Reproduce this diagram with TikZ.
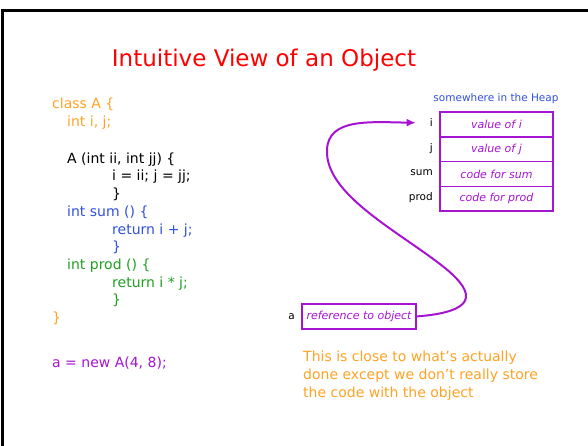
\documentclass[tikz,border=0pt]{standalone}
\usepackage{fontspec}
\setmainfont{DejaVu Sans}
\usetikzlibrary{positioning,arrows.meta}
\definecolor{codeorange}{RGB}{255,162,36}
\definecolor{codeblue}{RGB}{48,80,224}
\definecolor{codegreen}{RGB}{30,160,30}
\definecolor{heapviolet}{RGB}{165,20,210}
\definecolor{titlered}{RGB}{255,0,0}
\begin{document}
\begin{tikzpicture}[x=1pt,y=-1pt,every node/.style={inner sep=0pt},
  code/.style={anchor=base west,font=\fontsize{14}{17}\selectfont},
  slotname/.style={anchor=base east,font=\fontsize{10.5}{12}\selectfont},
  cell/.style={draw=heapviolet,line width=1.6pt,outer sep=0pt,minimum width=113pt,
    minimum height=24.8pt,text=heapviolet,font=\fontsize{11}{13}\selectfont\itshape},
  pointer/.style={draw=heapviolet,line width=2pt,-{Latex[length=9pt,width=8pt]}}]
  \useasboundingbox (0,0) rectangle (588,446);
  \draw[line width=3pt] (2.5,446) -- (2.5,10.5) -- (588,10.5);
  \node[anchor=base,text=titlered,font=\fontsize{23}{27}\selectfont] (title) at (264,66.5) {Intuitive View of an Object};

  % the class source
  \node[code,text=codeorange] (cls) at (52,109) {class A \{};
  \node[code,text=codeorange] (fields) at (67,127) {int i, j;};
  \node[code] (ctor) at (67,164) {A (int ii, int jj) \{};
  \node[code] (ctorbody) at (112,181) {i = ii; j = jj;};
  \node[code] (ctorend) at (112,198.5) {\}};
  \node[code,text=codeblue] (sum) at (67,216) {int sum () \{};
  \node[code,text=codeblue] (sumbody) at (112,234) {return i + j;};
  \node[code,text=codeblue] (sumend) at (112,251.5) {\}};
  \node[code,text=codegreen] (prod) at (67,269) {int prod () \{};
  \node[code,text=codegreen] (prodbody) at (112,287) {return i * j;};
  \node[code,text=codegreen] (prodend) at (112,304.5) {\}};
  \node[code,text=codeorange] (clsend) at (52,322) {\}};
  \node[code,text=heapviolet] (alloc) at (52,367) {a = new A(4, 8);};

  % the object in the heap
  \node[anchor=base,text=codeblue,font=\fontsize{10.5}{12}\selectfont] (heap) at (496,102) {somewhere in the Heap};
  \node[cell] (vali) at (496.5,124.5) {value of i};
  \node[cell,below=0pt of vali] (valj) {value of j};
  \node[cell,below=0pt of valj] (sumcode) {code for sum};
  \node[cell,below=0pt of sumcode] (prodcode) {code for prod};
  \node[slotname] (lbli) at (433,127) {i};
  \node[slotname] (lblj) at (433,151.5) {j};
  \node[slotname] (lblsum) at (433,176) {sum};
  \node[slotname] (lblprod) at (433,200.5) {prod};

  % the variable a and its reference
  \node[cell,line width=1.2pt,minimum width=114pt,minimum height=25pt] (ref) at (359,316.5) {reference to object};
  \node[slotname] (lbla) at (295,319.5) {a};
  \draw[pointer,shorten >=14pt] (ref.east) .. controls (475,312) and (478,295) .. (445,268)
    .. controls (400,232) and (325,195) .. (327,150)
    .. controls (328,118) and (370,122) .. (lbli.west);

  \node[code,text=codeorange] (note1) at (303,361) {This is close to what’s actually};
  \node[code,text=codeorange] (note2) at (303,379) {done except we don’t really store};
  \node[code,text=codeorange] (note3) at (303,397) {the code with the object};
\end{tikzpicture}
\end{document}
